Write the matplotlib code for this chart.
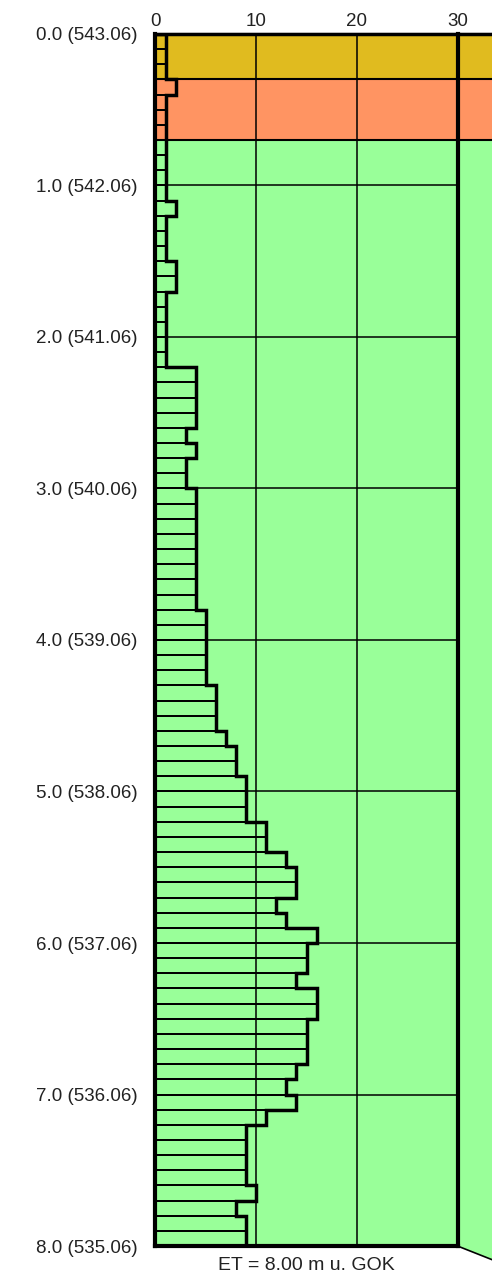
import matplotlib
matplotlib.use("Agg")
import matplotlib.pyplot as plt
import numpy as np

plt.rcParams['font.family'] = ['Liberation Sans', 'DejaVu Sans']

# blows per 10 cm, from 0.0 m to 8.0 m
blows = [1, 1, 1, 2, 1, 1, 1, 1, 1, 1,
         1, 2, 1, 1, 1, 2, 2, 1, 1, 1,
         1, 1, 4, 4, 4, 4, 3, 4, 3, 3,
         4, 4, 4, 4, 4, 4, 4, 4, 5, 5,
         5, 5, 5, 6, 6, 6, 7, 8, 8, 9,
         9, 9, 11, 11, 13, 14, 14, 12, 13, 16,
         15, 15, 14, 16, 16, 15, 15, 15, 14, 13,
         14, 11, 9, 9, 9, 9, 10, 8, 9, 9]
step = 0.1
depth_labels = ["0.0 (543.06)", "1.0 (542.06)", "2.0 (541.06)", "3.0 (540.06)",
                "4.0 (539.06)", "5.0 (538.06)", "6.0 (537.06)", "7.0 (536.06)",
                "8.0 (535.06)"]
layer_top = [0.0, 0.3, 0.7]
layer_bot = [0.3, 0.7, 8.0]
layer_colors = ["#e0bb1f", "#ff9462", "#99ff99"]
end_depth = 8.0
xmax = 30

fig = plt.figure(figsize=(4.92, 12.81), dpi=100)
ax = fig.add_axes([0.316, 0.0273, 0.684, 0.9462])
xr = 33.42
ax.set_xlim(0, xr)
ax.set_ylim(end_depth, 0)

# soil layers
for t, b, c in zip(layer_top, layer_bot, layer_colors):
    if b == end_depth:
        poly = plt.Polygon([(0, t), (xr, t), (xr, b + 0.09), (xmax, b), (0, b)],
                           closed=True, facecolor=c, edgecolor="none", clip_on=False, zorder=0)
        ax.add_patch(poly)
    else:
        ax.fill_between([0, xr], t, b, color=c, lw=0, zorder=0)
for t in layer_top:
    ax.plot([0, xr], [t, t], color="black", lw=1.5, zorder=2, clip_on=False)
ax.plot([xmax, xr], [end_depth, end_depth + 0.09], color="black", lw=1.2, clip_on=False, zorder=2)

# grid
for d in range(1, 8):
    ax.plot([0, xmax], [d, d], color="black", lw=1.1, zorder=1)
for xv in [10, 20]:
    ax.plot([xv, xv], [0, end_depth], color="black", lw=1.1, zorder=1)

# bars
tops = np.arange(len(blows)) * step
ax.barh(tops + step / 2, blows, height=step, left=0, fill=False,
        edgecolor="black", lw=1.3, zorder=3)
xs = np.repeat(blows, 2)
ys = np.column_stack([tops, tops + step]).ravel()
ax.plot(np.concatenate([[0], xs, [0]]), np.concatenate([[0], ys, [end_depth]]),
        color="black", lw=2.5, zorder=4, solid_joinstyle="miter")

# frame
ax.plot([0, 0], [0, end_depth], color="black", lw=3, zorder=5, clip_on=False)
ax.plot([xmax, xmax], [0, end_depth], color="black", lw=3, zorder=5, clip_on=False)
ax.plot([0, xmax], [end_depth, end_depth], color="black", lw=3, zorder=5, clip_on=False)
ax.plot([0, xr], [0, 0], color="black", lw=2.5, zorder=5, clip_on=False)

for s in ax.spines.values():
    s.set_visible(False)

ax.xaxis.tick_top()
ax.set_xticks([0, 10, 20, 30])
ax.set_xticklabels(["0", "10", "20", "30"], fontsize=13.5, color="#222222")
ax.tick_params(axis="x", length=0, pad=3)
ax.set_yticks(range(0, 9))
ax.set_yticklabels(depth_labels, fontsize=13.5, color="#222222")
ax.tick_params(axis="y", length=0, pad=13)

ax.text(15, end_depth + 0.13, "ET = 8.00 m u. GOK", ha="center", va="center",
        fontsize=14, color="#222222")

fig.savefig("out.png", dpi=100)
